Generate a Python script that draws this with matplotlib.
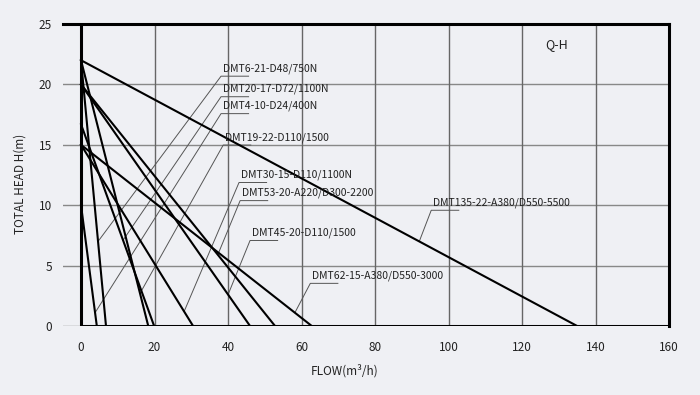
import numpy as np
import matplotlib
matplotlib.use("Agg")
import matplotlib.pyplot as plt

plt.rcParams['font.family'] = ['Noto Sans CJK SC', 'DejaVu Sans']

# pump models: shut-off head (m) and max flow (m3/h)
models = ['DMT6-21-D48/750N', 'DMT20-17-D72/1100N', 'DMT4-10-D24/400N',
          'DMT19-22-D110/1500', 'DMT30-15-D110/1100N', 'DMT53-20-A220/D300-2200',
          'DMT45-20-D110/1500', 'DMT62-15-A380/D550-3000', 'DMT135-22-A380/D550-5500']
head_max = [22, 16.7, 10, 22, 15, 20, 20, 15, 22]
flow_max = [6.8, 19.9, 4.3, 18.3, 30.5, 52.8, 46.0, 62.8, 135]

# label positions (data coords) and the head where each leader touches its curve
label_x = [38.6, 38.6, 38.6, 39.2, 43.5, 43.8, 46.5, 62.9, 95.8]
label_y = [21.3, 19.6, 18.2, 15.6, 12.5, 11.0, 7.7, 4.15, 10.2]
touch_h = [7.0, 7.1, 1.1, 2.7, 1.2, 5.9, 2.6, 1.1, 7.0]

x_ticks = [0, 20, 40, 60, 80, 100, 120, 140, 160]
y_ticks = [0, 5, 10, 15, 20, 25]

bg = '#eff0f4'
fig = plt.figure(figsize=(7, 3.95), dpi=100, facecolor=bg)
ax = fig.add_axes([63 / 700, 1 - 326 / 395, 606 / 700, 302 / 395])
ax.set_facecolor(bg)
ax.set_xlim(-4.9, 160)
ax.set_ylim(0, 25)

for v in y_ticks[:-1]:
    ax.axhline(v, color='#888888', lw=1, zorder=1)
for v in x_ticks[1:-1]:
    ax.axvline(v, color='#666666', lw=1, zorder=1)

# axis frame
ax.plot([0, 0], [0, 25], color='black', lw=2.2, zorder=4, solid_capstyle='butt')
ax.plot([0, 160], [0, 0], color='black', lw=2.2, zorder=4, solid_capstyle='butt')
for s in ['left', 'bottom']:
    ax.spines[s].set_visible(False)
for s in ['top', 'right']:
    ax.spines[s].set_linewidth(2.2)
    ax.spines[s].set_color('black')

for h, q in zip(head_max, flow_max):
    ax.plot([0, q], [h, 0], color='black', lw=1.5, zorder=3)

for name, h, q, tx, ty, th in zip(models, head_max, flow_max, label_x, label_y, touch_h):
    px = q * (1 - th / h)
    ex, ey = tx - 0.5, ty - 0.62
    ax.plot([px, ex, ex + 7.5], [th, ey, ey], color='#555555', lw=0.7, zorder=2)
    ax.text(tx, ty, name, fontsize=7.5, color='#222222', va='center', ha='left', zorder=5)

ax.text(129.3, 23.3, 'Q-H', fontsize=9, color='#222222', ha='center', va='center')

ax.set_xticks(x_ticks)
ax.set_yticks(y_ticks)
ax.tick_params(length=0, labelsize=8.5, labelcolor='#222222')
ax.tick_params(axis='x', pad=11)
ax.tick_params(axis='y', pad=8)

fig.text(345 / 700, 1 - 371 / 395, 'FLOW(m³/h)', fontsize=8.5, color='#222222',
         ha='center', va='center')
fig.text(20 / 700, 1 - 184 / 395, 'TOTAL HEAD H(m)', fontsize=8.5, color='#222222',
         ha='center', va='center', rotation=90)

fig.savefig('out.png', dpi=100, facecolor=bg)
